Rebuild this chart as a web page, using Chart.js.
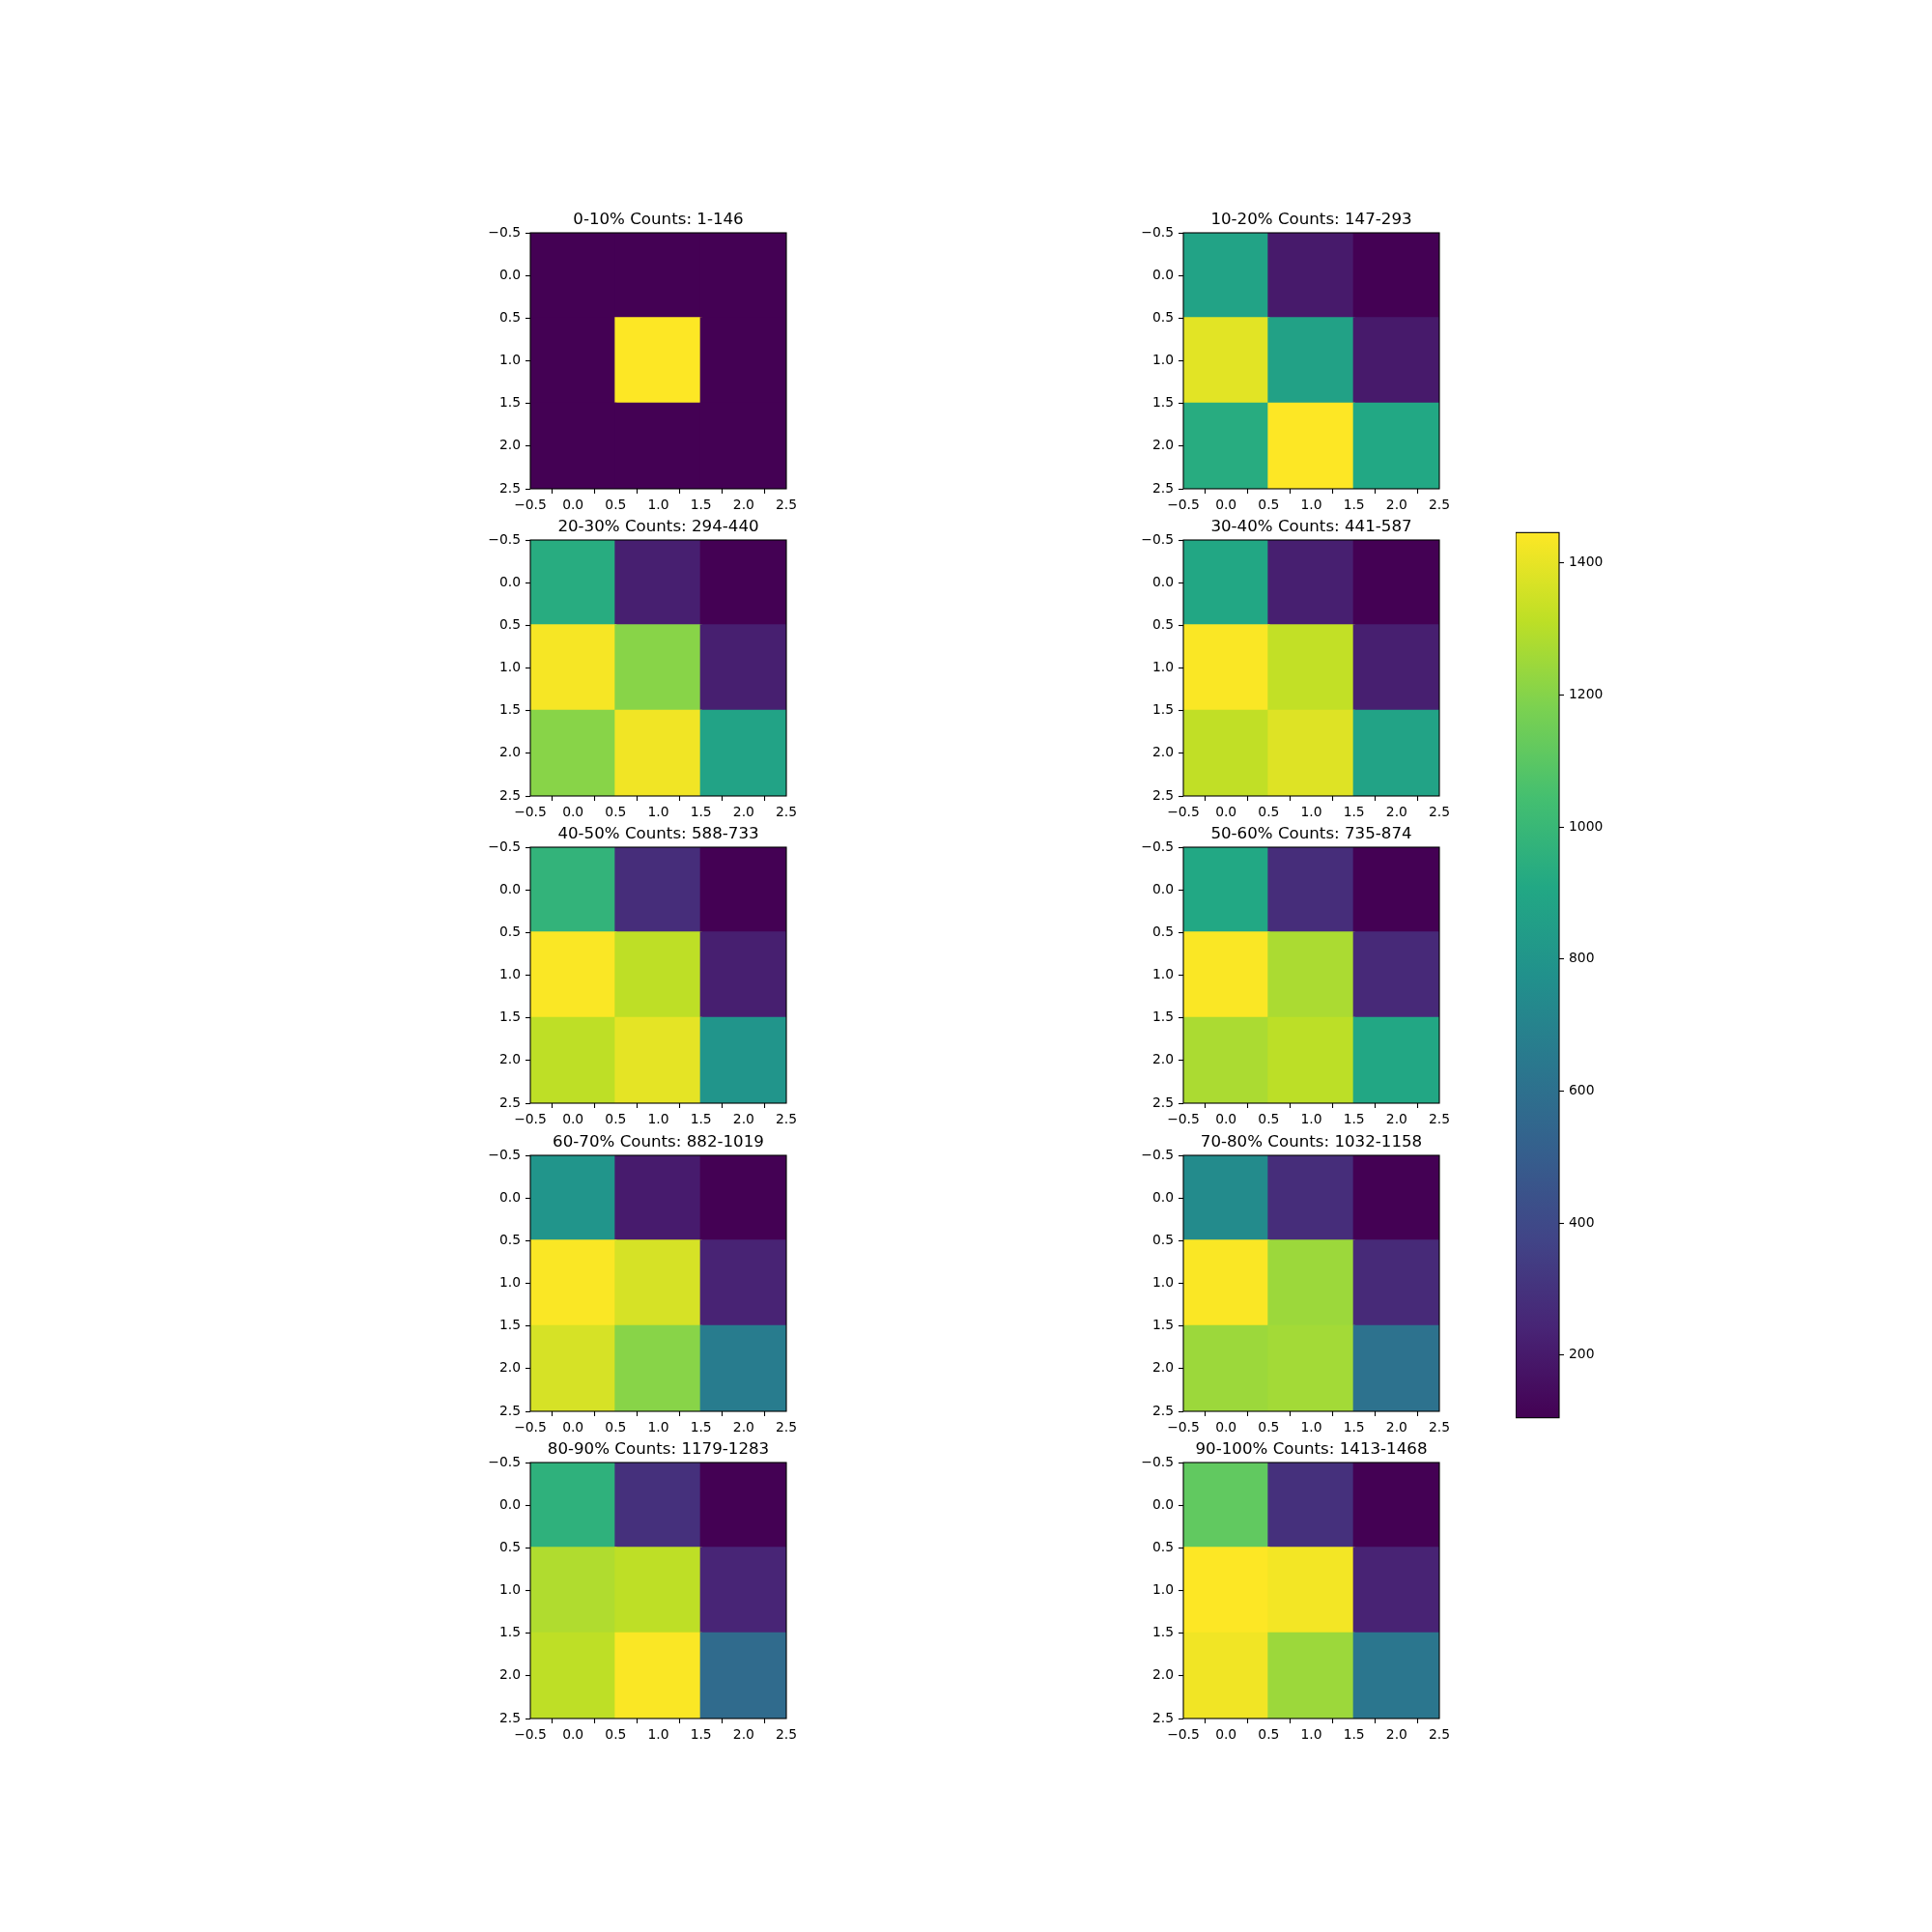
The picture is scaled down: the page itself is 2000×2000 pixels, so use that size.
<!DOCTYPE html>
<html>
<head>
<meta charset="utf-8">
<script src="https://cdn.jsdelivr.net/npm/chart.js@4.4.1/dist/chart.umd.min.js"></script>
<style>
body { margin: 0; background: #fff; }
#page { position: relative; width: 2000px; height: 2000px; }
.box { position: absolute; }
</style>
</head>
<body>
<div id="page"></div>
<script>

// titles
var percentBins = ['0-10%', '10-20%', '20-30%', '30-40%', '40-50%', '50-60%', '60-70%', '70-80%', '80-90%', '90-100%'];
var countRanges = ['1-146', '147-293', '294-440', '441-587', '588-733', '735-874', '882-1019', '1032-1158', '1179-1283', '1413-1468'];

// tick labels
var axisTicks = [-0.5, 0, 0.5, 1, 1.5, 2, 2.5];
var cbTicks = [200, 400, 600, 800, 1000, 1200, 1400];
var cbMin = 105;
var cbMax = 1446;

// 3x3 cells, rows top to bottom
var grid0 = [[105, 105, 105], [105, 1446, 105], [105, 105, 105]];
var grid1 = [[880, 200, 105], [1390, 870, 200], [935, 1446, 910]];
var grid2 = [[935, 220, 105], [1432, 1205, 220], [1205, 1420, 880]];
var grid3 = [[905, 220, 105], [1440, 1322, 220], [1320, 1380, 880]];
var grid4 = [[975, 275, 105], [1440, 1315, 220], [1315, 1395, 800]];
var grid5 = [[910, 275, 105], [1440, 1275, 260], [1275, 1310, 905]];
var grid6 = [[800, 205, 105], [1440, 1365, 235], [1365, 1205, 665]];
var grid7 = [[745, 275, 105], [1440, 1245, 265], [1245, 1260, 610]];
var grid8 = [[960, 290, 105], [1285, 1315, 245], [1315, 1440, 570]];
var grid9 = [[1115, 290, 105], [1446, 1425, 235], [1420, 1245, 630]];
var grids = [grid0, grid1, grid2, grid3, grid4, grid5, grid6, grid7, grid8, grid9];

var viridisStops = ['#440154', '#482475', '#414487', '#355f8d', '#2a788e', '#21918c',
                    '#22a884', '#44bf70', '#7ad151', '#bddf26', '#fde725'];

Chart.defaults.font.family = "'DejaVu Sans'";
Chart.defaults.font.size = 13.89;
Chart.defaults.color = '#000';

function hex2rgb(h) {
  return [parseInt(h.substr(1, 2), 16), parseInt(h.substr(3, 2), 16), parseInt(h.substr(5, 2), 16)];
}

function viridis(v) {
  var t = (v - cbMin) / (cbMax - cbMin);
  t = Math.max(0, Math.min(1, t));
  var p = t * 10;
  var i = Math.min(9, Math.floor(p));
  var f = p - i;
  var a = hex2rgb(viridisStops[i]), b = hex2rgb(viridisStops[i + 1]);
  var c = [0, 1, 2].map(function (k) { return Math.round(a[k] + (b[k] - a[k]) * f); });
  return 'rgb(' + c.join(',') + ')';
}

function fmt(v) {
  return (v < 0 ? '\u2212' : '') + Math.abs(v).toFixed(1);
}

var frame = {
  id: 'frame',
  afterDatasetsDraw: function (chart) {
    var a = chart.chartArea, c = chart.ctx;
    c.save();
    c.strokeStyle = '#000';
    c.lineWidth = 1.1;
    c.strokeRect(a.left, a.top, a.right - a.left, a.bottom - a.top);
    c.restore();
  }
};

var tickGrid = { drawOnChartArea: false, drawTicks: true, tickLength: 5, tickColor: '#000', tickWidth: 1.1 };

var page = document.getElementById('page');

function addBox(left, top, w, h) {
  var d = document.createElement('div');
  d.className = 'box';
  d.style.left = left + 'px';
  d.style.top = top + 'px';
  d.style.width = w + 'px';
  d.style.height = h + 'px';
  var cv = document.createElement('canvas');
  d.appendChild(cv);
  page.appendChild(d);
  return cv;
}

function makePanel(k) {
  var col = k % 2, row = Math.floor(k / 2);
  var px = col == 0 ? 548.7 : 1224.7;
  var py = 240.7 + row * 318.3;
  var cv = addBox(px - 70, py - 23, 405, 328);

  var grid = grids[k];
  var cells = [], colors = [];
  for (var r = 0; r < 3; r++) {
    for (var c = 0; c < 3; c++) {
      cells.push({ x: c, y: [r - 0.5, r + 0.5] });
      colors.push(viridis(grid[r][c]));
    }
  }

  new Chart(cv, {
    type: 'bar',
    data: {
      datasets: [{
        data: cells,
        backgroundColor: colors,
        borderWidth: 0,
        inflateAmount: 1,   // overlap neighbours so no seams show
        barPercentage: 1,
        // ruler spacing comes from the 0.5 ticks, so a cell is two of them wide
        categoryPercentage: 2
      }]
    },
    options: {
      responsive: true,
      maintainAspectRatio: false,
      animation: false,
      layout: { padding: 0 },
      plugins: {
        legend: { display: false },
        tooltip: { enabled: false },
        title: {
          display: true,
          text: percentBins[k] + ' Counts: ' + countRanges[k],
          color: '#000',
          font: { size: 16.67, weight: 'normal' },
          padding: { top: 0, bottom: 3 }
        }
      },
      scales: {
        x: {
          type: 'linear', min: -0.5, max: 2.5, offset: false,
          afterBuildTicks: function (s) { s.ticks = axisTicks.map(function (v) { return { value: v }; }); },
          afterFit: function (s) { s.height = 40; },
          grid: tickGrid,
          border: { display: false },
          ticks: { padding: 4, maxRotation: 0, autoSkip: false, callback: function (v) { return fmt(v); } }
        },
        y: {
          type: 'linear', min: -0.5, max: 2.5, reverse: true,
          afterBuildTicks: function (s) { s.ticks = axisTicks.map(function (v) { return { value: v }; }); },
          afterFit: function (s) { s.width = 70; },
          grid: tickGrid,
          border: { display: false },
          ticks: { padding: 5, autoSkip: false, callback: function (v) { return fmt(v); } }
        },
        y2: {
          position: 'right', display: true,
          afterFit: function (s) { s.width = 70; },
          grid: { display: false, drawTicks: false },
          border: { display: false },
          ticks: { display: false }
        }
      }
    },
    plugins: [frame]
  });
}

for (var k = 0; k < 10; k++) makePanel(k);

// colorbar
function cbFill(context) {
  var ch = context.chart;
  if (!ch.chartArea) return viridisStops[5];
  var ys = ch.scales.y;
  var g = ch.ctx.createLinearGradient(0, ys.getPixelForValue(cbMin), 0, ys.getPixelForValue(cbMax));
  viridisStops.forEach(function (c, i) { g.addColorStop(i / 10, c); });
  return g;
}

var cbCanvas = addBox(1569, 538, 105, 943);
new Chart(cbCanvas, {
  type: 'bar',
  data: {
    labels: [''],
    datasets: [{
      data: [[cbMin, cbMax]],
      backgroundColor: cbFill,
      borderWidth: 0,
      barPercentage: 1,
      categoryPercentage: 1
    }]
  },
  options: {
    responsive: true,
    maintainAspectRatio: false,
    animation: false,
    layout: { padding: { top: 10, bottom: 10 } },
    plugins: { legend: { display: false }, tooltip: { enabled: false } },
    scales: {
      x: { display: false },
      y: {
        position: 'right', min: cbMin, max: cbMax,
        afterBuildTicks: function (s) { s.ticks = cbTicks.map(function (v) { return { value: v }; }); },
        afterFit: function (s) { s.width = 60; },
        grid: tickGrid,
        border: { display: false },
        ticks: { padding: 5, autoSkip: false, callback: function (v) { return String(v); } }
      }
    }
  },
  plugins: [frame]
});

</script>
</body>
</html>
